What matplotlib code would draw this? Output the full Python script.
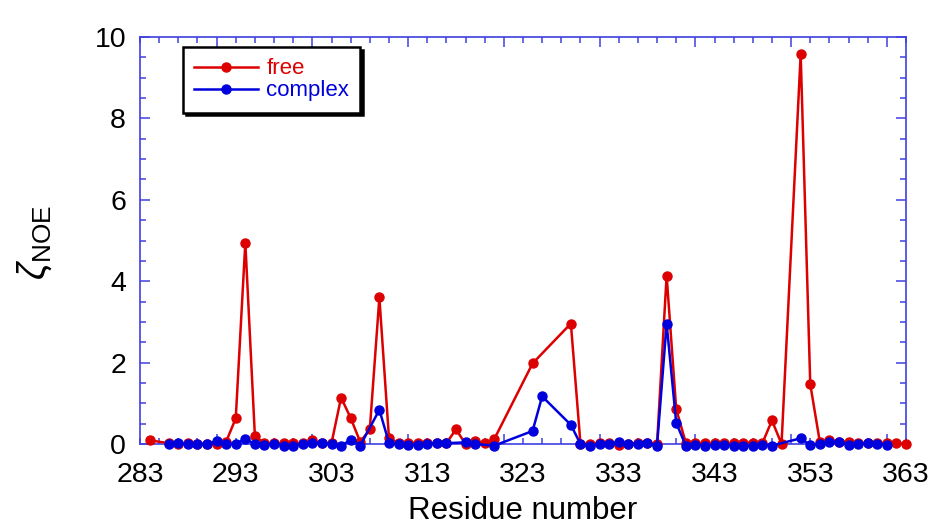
import matplotlib
matplotlib.use('Agg')
import matplotlib.pyplot as plt
from matplotlib.ticker import MultipleLocator, FixedLocator

plt.rcParams['font.family'] = 'Liberation Sans'
plt.rcParams['mathtext.fontset'] = 'custom'
plt.rcParams['mathtext.rm'] = 'Liberation Sans'
plt.rcParams['mathtext.it'] = 'Liberation Sans:italic'

# residue numbers and zeta_NOE values
free_res = [284, 286, 287, 288, 289, 290, 291, 292, 293, 294, 295, 296, 297, 298,
            299, 300, 301, 302, 303, 304, 305, 306, 307, 308, 309, 310, 311, 312,
            313, 314, 315, 316, 317, 318, 319, 320, 324, 328, 329, 330, 331, 332,
            333, 334, 335, 336, 337, 338, 339, 340, 341, 342, 343, 344, 345, 346,
            347, 348, 349, 350, 352, 353, 354, 355, 356, 357, 358, 359, 360, 361,
            362, 363]
free_val = [0.09, 0.02, 0.0, 0.02, 0.0, 0.01, 0.0, 0.06, 0.63, 4.95, 0.19, 0.02, 0.02, 0.02,
            0.02, 0.02, 0.09, 0.02, 0.02, 1.14, 0.64, 0.05, 0.36, 3.6, 0.15, 0.02, 0.03, 0.03,
            0.02, 0.02, 0.02, 0.36, 0.0, 0.07, 0.02, 0.12, 1.98, 2.96, 0.01, 0.0, 0.02, 0.02,
            -0.03, 0.01, 0.02, 0.02, 0.0, 4.14, 0.86, 0.03, 0.02, 0.02, 0.02, 0.02, 0.02, 0.03,
            0.03, 0.02, 0.58, 0.0, 9.58, 1.47, 0.05, 0.11, 0.05, 0.06, 0.03, 0.02, 0.03, 0.02,
            0.02, 0.0]

complex_res = [286, 287, 288, 289, 290, 291, 292, 293, 294, 295, 296, 297, 298, 299,
               300, 301, 302, 303, 304, 305, 306, 308, 309, 310, 311, 312, 313, 314,
               315, 317, 318, 320, 324, 325, 328, 329, 330, 331, 332, 333, 334, 335,
               336, 337, 338, 339, 340, 341, 342, 343, 344, 345, 346, 347, 348, 349,
               352, 353, 354, 355, 356, 357, 358, 359, 360, 361]
complex_val = [0.0, 0.02, 0.0, 0.0, 0.0, 0.07, 0.0, 0.01, 0.12, 0.0, -0.02, 0.0, -0.04, -0.04,
               0.0, 0.03, 0.02, 0.0, -0.04, 0.1, -0.04, 0.84, 0.03, 0.0, -0.02, -0.03, 0.0, 0.02,
               0.02, 0.04, 0.0, -0.04, 0.32, 1.17, 0.47, 0.0, -0.06, 0.0, 0.0, 0.06, 0.0, 0.0,
               0.02, -0.04, 2.96, 0.52, -0.04, -0.02, -0.04, -0.03, -0.03, -0.04, -0.04, -0.04, -0.02, -0.04,
               0.14, -0.03, 0.0, 0.04, 0.06, -0.03, -0.01, 0.02, 0.01, -0.03]

x_labels = [283, 293, 303, 313, 323, 333, 343, 353, 363]
long_ticks = [291, 301, 311, 321, 331, 341, 351, 361]

RED = '#dd0000'
BLUE = '#0000dd'
FRAME = '#4040e0'

fig = plt.figure(figsize=(9.29, 5.27), dpi=100)
ax = fig.add_axes([140/929, 1 - 444/527, 766/929, 407/527])

ax.plot(free_res, free_val, '-o', color=RED, lw=1.8, ms=6.5, label='free',
        clip_on=False, zorder=3)
ax.plot(complex_res, complex_val, '-o', color=BLUE, lw=1.8, ms=6.5, label='complex',
        clip_on=False, zorder=4)

ax.set_xlim(283, 363)
ax.set_ylim(0, 10)
for s in ax.spines.values():
    s.set_color(FRAME)
    s.set_linewidth(1.2)

ax.xaxis.set_major_locator(FixedLocator(long_ticks))
ax.xaxis.set_minor_locator(FixedLocator(range(283, 364, 2)))
ax.yaxis.set_major_locator(MultipleLocator(2))
ax.yaxis.set_minor_locator(MultipleLocator(0.5))
ax.tick_params(which='both', direction='in', top=True, right=True, color=FRAME, width=1.1)
ax.tick_params(which='major', length=7.5)
ax.tick_params(which='minor', length=4)
ax.tick_params(axis='x', labelbottom=False)
ax.tick_params(axis='y', labelsize=20.5, pad=10)

# the residue labels sit between the long ticks, so put them on their own axis
sec = ax.secondary_xaxis('bottom')
sec.set_xticks(x_labels)
sec.tick_params(length=0, labelsize=20.5, pad=13)
sec.spines['bottom'].set_visible(False)

leg = ax.legend(loc='upper left', bbox_to_anchor=(0.056, 0.975), borderaxespad=0,
                fontsize=16, frameon=True, fancybox=False, edgecolor='black',
                framealpha=1, shadow={'color': 'black', 'alpha': 1},
                handlelength=2.9, handletextpad=0.35, borderpad=0.5,
                labelspacing=0.05, labelcolor='linecolor')
leg.get_frame().set_linewidth(1.8)

fig.text(523/929, 1/527, 'Residue number', ha='center', va='bottom', fontsize=22.5)
fig.text(35/929, 1 - 242/527, r'$\zeta_{\mathrm{NOE}}$', rotation=90,
         ha='center', va='center', fontsize=27)

fig.savefig('out.png', dpi=100)
